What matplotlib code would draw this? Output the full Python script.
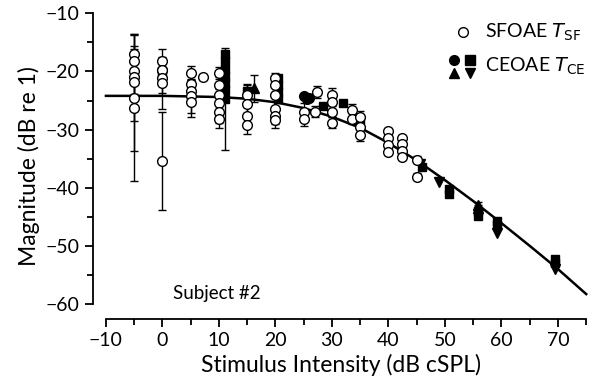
import matplotlib
matplotlib.use("Agg")
import matplotlib.pyplot as plt
from matplotlib.ticker import MultipleLocator

plt.rcParams['font.family'] = ['Lato', 'DejaVu Sans']

# SFOAE T_SF (open circles) : stimulus level, magnitude, error half-width
sf_x = [-5, -5, -5, -5, -5, -5, -5,
        0, 0, 0, 0, 0,
        5, 5, 5, 5, 5, 7.2,
        10, 10, 10, 10, 10, 10,
        15, 15, 15, 15,
        20, 20, 20, 20, 20, 20,
        25, 25, 27, 27.3,
        30, 30, 30, 30,
        33.5, 33.5, 35, 35, 35,
        40, 40, 40, 40,
        42.4, 42.4, 42.4, 42.4,
        45, 45]
sf_y = [-17.0, -18.2, -20.0, -21.0, -21.8, -24.6, -26.3,
        -18.2, -19.8, -21.2, -22.0, -35.4,
        -20.3, -22.1, -23.3, -24.3, -25.3, -21.0,
        -20.3, -22.4, -24.0, -25.5, -26.9, -28.1,
        -24.1, -25.6, -27.6, -29.2,
        -21.2, -22.4, -24.1, -26.4, -27.6, -28.3,
        -26.9, -28.1, -26.9, -23.5,
        -24.1, -25.2, -26.9, -28.8,
        -26.6, -28.1, -27.8, -29.5, -31.0,
        -30.3, -31.5, -32.7, -33.8,
        -31.5, -32.4, -33.6, -34.7,
        -35.2, -38.1]
sf_err = [3.4, 2.0, 1.5, 7.5, 2.0, 9.0, 12.5,
          2.0, 1.5, 2.5, 4.5, 8.5,
          1.2, 1.5, 2.0, 2.8, 2.5, 0.5,
          1.0, 1.5, 2.0, 2.5, 2.0, 1.7,
          2.0, 1.5, 2.0, 1.6,
          1.0, 1.5, 2.0, 2.0, 1.5, 1.4,
          1.5, 1.2, 1.0, 1.0,
          1.2, 1.5, 1.0, 1.0,
          1.0, 1.0, 1.0, 1.2, 1.0,
          0.6, 0.6, 0.6, 0.6,
          0.6, 0.6, 0.6, 0.6,
          0.6, 0.6]

# CEOAE T_CE (filled markers, one list per marker type)
ce_circ_x = [0, 25, 25.5, 26]
ce_circ_y = [-19.8, -24.3, -24.8, -24.5]
ce_sq_x = [0, 11, 11, 11, 11, 11, 11, 11, 15, 20.5, 20.5, 20.5, 20.5,
           28.4, 32, 35, 45.9, 50.7, 50.7, 55.9, 55.9, 59.2, 59.2, 69.5, 69.5]
ce_sq_y = [-20.5, -17.0, -18.2, -19.5, -20.7, -22.0, -23.2, -24.7, -23.3,
           -21.2, -22.4, -23.6, -24.7, -25.9, -25.5, -28.3, -36.4, -40.3,
           -41.0, -44.0, -44.8, -45.7, -46.5, -52.2, -52.9]
ce_sq_err = [0.5, 0.5, 0.5, 0.5, 0.5, 0.5, 0.5, 8.8, 1.0,
             0.5, 0.5, 0.5, 0.5, 0.5, 0.5, 0.5, 0.5, 0.5,
             0.5, 0.5, 0.5, 0.5, 0.5, 0.5, 0.5]
ce_up_x = [16.2, 55.9, 55.9]
ce_up_y = [-22.9, -42.9, -43.5]
ce_up_err = [2.3, 0.5, 0.5]
ce_dn_x = [45.5, 48.9, 59.2, 69.5]
ce_dn_y = [-36.0, -39.0, -47.8, -54.0]

# fitted curve
fit_x = [-10, 0, 5, 10, 15, 20, 25, 30, 35, 40, 45, 50, 55, 60, 65, 70, 75]
fit_y = [-24.2, -24.2, -24.3, -24.4, -24.7, -25.3, -26.3, -27.8, -29.7,
         -32.3, -35.3, -38.7, -42.3, -46.1, -50.0, -54.0, -58.3]

fig = plt.figure(figsize=(5.92, 3.92), dpi=100)
ax = fig.add_axes([0.157, 0.186, 0.838, 0.783])

ax.plot(fit_x, fit_y, color='black', lw=1.8, zorder=2)

ek = dict(ecolor='black', elinewidth=1.0, capsize=3, capthick=1.0, ls='none')
ax.errorbar(ce_sq_x, ce_sq_y, yerr=ce_sq_err, fmt='s', ms=6, mfc='black', mec='black', zorder=3, **ek)
ax.errorbar(ce_up_x, ce_up_y, yerr=ce_up_err, fmt='^', ms=7, mfc='black', mec='black', zorder=3, **ek)
ax.plot(ce_circ_x, ce_circ_y, 'o', ms=7, mfc='black', mec='black', zorder=3)
ax.plot(ce_dn_x, ce_dn_y, 'v', ms=7, mfc='black', mec='black', zorder=3)
ax.errorbar(sf_x, sf_y, yerr=sf_err, fmt='o', ms=7, mfc='white', mec='black', mew=1.0, zorder=4, **ek)

ax.set_xlim(-12.3, 75.5)
ax.set_ylim(-62.6, -9.8)
ax.spines['top'].set_visible(False)
ax.spines['right'].set_visible(False)
ax.spines['left'].set_bounds(-60, -10)
ax.spines['bottom'].set_bounds(-10, 75)
ax.spines['left'].set_linewidth(1.3)
ax.spines['bottom'].set_linewidth(1.3)
ax.xaxis.set_minor_locator(MultipleLocator(5))
ax.yaxis.set_major_locator(MultipleLocator(10))
ax.yaxis.set_minor_locator(MultipleLocator(5))
ax.set_xticks(range(-10, 71, 10))
ax.tick_params(which='major', direction='out', length=6, width=1.3, labelsize=14)
ax.tick_params(which='minor', direction='out', length=4, width=1.3)

ax.set_xlabel('Stimulus Intensity (dB cSPL)', fontsize=16.5, labelpad=3)
ax.set_ylabel('Magnitude (dB re 1)', fontsize=16.5, labelpad=4)

ax.text(173 / 592, 1 - 294 / 392, 'Subject #2', transform=fig.transFigure,
        fontsize=13.5, va='center', ha='left')

# legend drawn by hand
tf = fig.transFigure
ax.plot([463 / 592], [1 - 32 / 392], 'o', ms=7, mfc='white', mec='black', transform=tf, clip_on=False)
ax.text(485 / 592, 1 - 32 / 392, r'SFOAE $T_{\mathrm{SF}}$', transform=tf, fontsize=14, va='center')
for mk, px, py in [('o', 454, 60), ('s', 470, 60), ('^', 454, 73), ('v', 470, 73)]:
    ax.plot([px / 592], [1 - py / 392], mk, ms=7, mfc='black', mec='black', transform=tf, clip_on=False)
ax.text(485 / 592, 1 - 66 / 392, r'CEOAE $T_{\mathrm{CE}}$', transform=tf, fontsize=14, va='center')

fig.savefig('out.png', dpi=100)
